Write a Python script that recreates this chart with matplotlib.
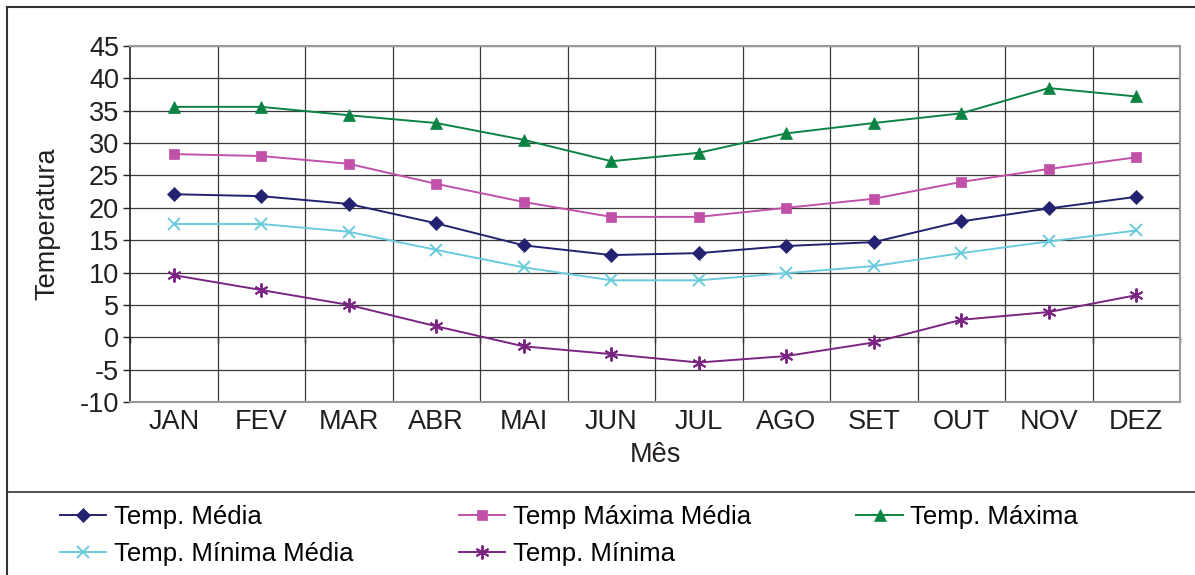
import matplotlib
matplotlib.use("Agg")
import matplotlib.pyplot as plt
from matplotlib.lines import Line2D
import numpy as np

plt.rcParams['font.family'] = ['Liberation Sans', 'DejaVu Sans']

months = ["JAN", "FEV", "MAR", "ABR", "MAI", "JUN", "JUL", "AGO", "SET", "OUT", "NOV", "DEZ"]
temp_media = [22.1, 21.8, 20.6, 17.6, 14.2, 12.7, 13.0, 14.1, 14.7, 17.9, 19.9, 21.7]
temp_max_media = [28.3, 28.0, 26.8, 23.7, 20.9, 18.6, 18.6, 20.0, 21.4, 24.0, 26.0, 27.8]
temp_max = [35.6, 35.6, 34.3, 33.1, 30.5, 27.2, 28.5, 31.5, 33.1, 34.6, 38.5, 37.2]
temp_min_media = [17.5, 17.5, 16.3, 13.5, 10.8, 8.8, 8.8, 9.9, 11.0, 13.0, 14.8, 16.5]
temp_min = [9.6, 7.3, 5.0, 1.7, -1.4, -2.6, -3.9, -2.9, -0.8, 2.7, 3.9, 6.5]
y_ticks = [-10, -5, 0, 5, 10, 15, 20, 25, 30, 35, 40, 45]

W, H = 1195, 575
fig = plt.figure(figsize=(W / 100, H / 100), dpi=100)
ax = fig.add_axes([130 / W, 1 - 402 / H, 1050 / W, 356 / H])

x = np.arange(len(months))
series = [
    ("Temp. Média", temp_media, "#232270", "D", 7.5),
    ("Temp Máxima Média", temp_max_media, "#C150A9", "s", 7.5),
    ("Temp. Máxima", temp_max, "#0B8443", "^", 9),
    ("Temp. Mínima Média", temp_min_media, "#6ACBDC", "x", 9),
    ("Temp. Mínima", temp_min, "#7A2582", (6, 2, 0), 10),
]
handles = {}
for name, vals, col, mk, ms in series:
    h, = ax.plot(x, vals, color=col, lw=1.4, marker=mk, markersize=ms,
                 markeredgewidth=1.4 if mk == "x" or isinstance(mk, tuple) else 0.5,
                 markerfacecolor=col, markeredgecolor=col, label=name, zorder=3)
    handles[name] = h

ax.set_xlim(-0.5, len(months) - 0.5)
ax.set_ylim(-10, 45)
ax.set_yticks(y_ticks)
ax.set_yticklabels([str(v) for v in y_ticks])
ax.set_xticks(x)
ax.set_xticklabels(months)
ax.tick_params(axis='x', length=0, labelsize=19.5, pad=5, colors='#231F20')
ax.tick_params(axis='y', length=5, width=1, labelsize=19.5, pad=3, colors='#231F20', direction='out')

for v in y_ticks:
    ax.axhline(v, color='#3a3a3a', lw=0.9, zorder=1)
for b in np.arange(0.5, len(months) - 0.5, 1):
    ax.axvline(b, color='#3a3a3a', lw=0.9, zorder=1)

for s in ['top', 'right', 'bottom']:
    ax.spines[s].set_color('#9a9a9a')
    ax.spines[s].set_linewidth(1.5)
ax.spines['left'].set_color('#231F20')
ax.spines['left'].set_linewidth(1.2)

# tick marks at the category axis crossing (y=0)
ylo, yhi = ax.get_ylim()
sec = ax.secondary_xaxis((0 - ylo) / (yhi - ylo))
sec.set_xticks(np.arange(-0.5, len(months), 1))
sec.set_xticklabels([])
sec.tick_params(length=4, width=1, direction='out', colors='#231F20')
sec.spines['bottom'].set_visible(False)
sec.spines['top'].set_visible(False)

ax.set_ylabel("Temperatura", fontsize=19.5, color='#231F20', labelpad=14)
ax.set_xlabel("Mês", fontsize=19.5, color='#231F20', labelpad=5)

# outer frame and separator
fig.add_artist(Line2D([7 / W, 7 / W], [0, 1 - 7 / H], transform=fig.transFigure, color='#333333', lw=1.5))
fig.add_artist(Line2D([7 / W, 1], [1 - 7 / H, 1 - 7 / H], transform=fig.transFigure, color='#333333', lw=1.5))
fig.add_artist(Line2D([7 / W, 1], [1 - 492 / H, 1 - 492 / H], transform=fig.transFigure, color='#333333', lw=1.2))

order = ["Temp. Média", "Temp. Mínima Média", "Temp Máxima Média", "Temp. Mínima", "Temp. Máxima"]
fig.legend([handles[n] for n in order], order, ncol=3, loc='upper left',
           bbox_to_anchor=(55 / W, 1 - 500 / H), frameon=False, fontsize=18.5,
           handlelength=1.8, handletextpad=0.3, columnspacing=4.1, labelspacing=0.5,
           borderaxespad=0, borderpad=0.2)

fig.savefig("out.png", dpi=100, facecolor='white')
